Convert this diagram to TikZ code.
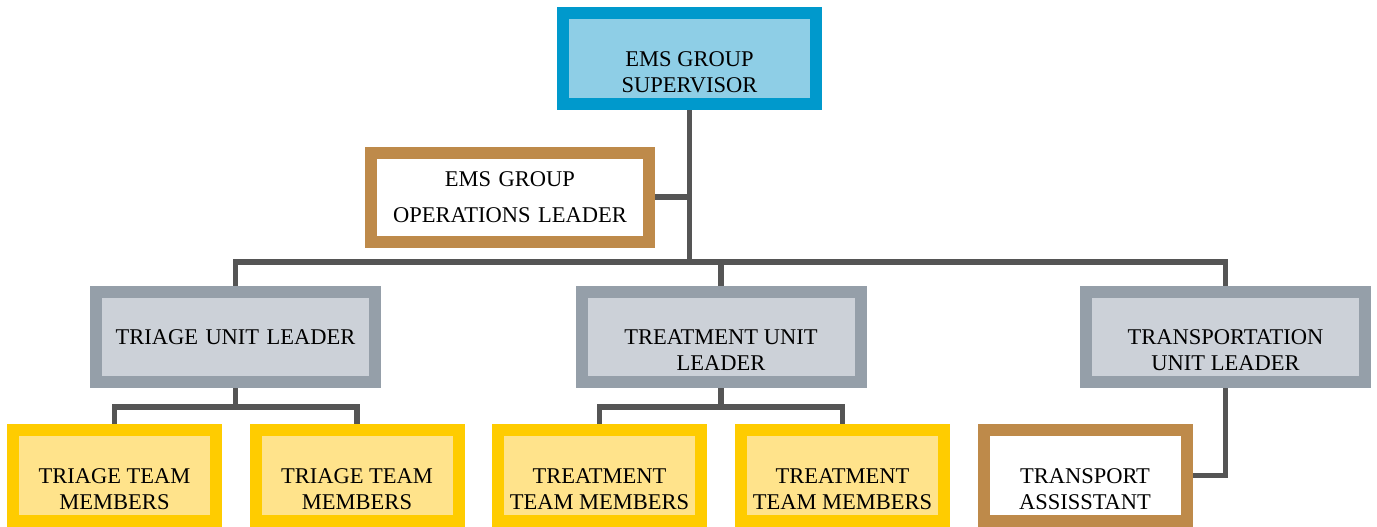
\documentclass[tikz,border=0pt]{standalone}
\usepackage{fontspec}
\setmainfont{Liberation Serif}
\usetikzlibrary{backgrounds,calc}
\definecolor{blueB}{HTML}{0099CC}
\definecolor{blueF}{HTML}{8ECEE6}
\definecolor{grayB}{HTML}{959FA9}
\definecolor{grayF}{HTML}{CCD1D8}
\definecolor{yelB}{HTML}{FFCC00}
\definecolor{yelF}{HTML}{FFE38B}
\definecolor{brownB}{HTML}{BE8A4A}
\definecolor{linec}{HTML}{555555}
\tikzset{
  box/.style={draw, rectangle, line width=12pt, inner sep=0pt, text width=#1, align=center,
    font=\fontsize{22.5}{26}\selectfont},
  sbox/.style={box=250pt, minimum width=253pt, minimum height=91pt, draw=blueB, fill=blueF},
  obox/.style={box=275pt, minimum width=278pt, minimum height=89pt, draw=brownB, fill=white,
    font=\fontsize{22.5}{36}\selectfont},
  gbox/.style={box=275pt, minimum width=279pt, minimum height=90pt, draw=grayB, fill=grayF},
  ybox/.style={box=200pt, minimum width=203pt, minimum height=91pt, draw=yelB, fill=yelF},
  abox/.style={box=200pt, minimum width=203pt, minimum height=91pt, draw=brownB, fill=white},
  btxt/.style={align=center, font=\fontsize{22.5}{26}\selectfont, inner sep=0pt},
  conn/.style={draw=linec, line width=5.5pt},
}
\begin{document}
\begin{tikzpicture}[x=1pt,y=-1pt]
\useasboundingbox (0,0) rectangle (1377,527);
% boxes
\node[sbox, label={[btxt, name=supt, yshift=-14pt]center:EMS GROUP\\SUPERVISOR}] (sup) at (689.5,58.5) {};
\node[obox] (ops) at (510,197) {EMS GROUP\\OPERATIONS LEADER};
\node[gbox] (tri) at (235.5,337) {TRIAGE UNIT LEADER};
\node[gbox, label={[btxt, name=trtt, yshift=-13pt]center:TREATMENT UNIT\\LEADER}] (trt) at (721,337) {};
\node[gbox, label={[btxt, name=trst, yshift=-13pt]center:TRANSPORTATION\\UNIT LEADER}] (trs) at (1225.5,337) {};
\node[ybox, label={[btxt, name=y1t, yshift=-13.5pt]center:TRIAGE TEAM\\MEMBERS}] (y1) at (114.5,475.5) {};
\node[ybox, label={[btxt, name=y2t, yshift=-13.5pt]center:TRIAGE TEAM\\MEMBERS}] (y2) at (357,475.5) {};
\node[ybox, label={[btxt, name=y3t, yshift=-13.5pt]center:TREATMENT\\TEAM MEMBERS}] (y3) at (599.5,475.5) {};
\node[ybox, label={[btxt, name=y4t, yshift=-13.5pt]center:TREATMENT\\TEAM MEMBERS}] (y4) at (842.5,475.5) {};
\node[abox, label={[btxt, name=tat, yshift=-13.5pt]center:TRANSPORT\\ASSISSTANT}] (ta) at (1085,475.5) {};
% junction points
\coordinate (bus) at (689.5,262);
\coordinate (tj) at (235.5,407);
\coordinate (rj) at (721,407);
\begin{scope}[on background layer]
\draw[conn] (sup.south) -- (bus);
\draw[conn] (ops.east) -- (ops.east -| sup.south);
\draw[conn] (tri.north) |- (bus) -| (trs.north);
\draw[conn] (bus -| trt.north) -- (trt.north);
\draw[conn] (tri.south) -- (tj);
\draw[conn] (y1.north) |- (tj) -| (y2.north);
\draw[conn] (trt.south) -- (rj);
\draw[conn] (y3.north) |- (rj) -| (y4.north);
\draw[conn] (trs.south) |- (ta.east);
\end{scope}
\end{tikzpicture}
\end{document}
